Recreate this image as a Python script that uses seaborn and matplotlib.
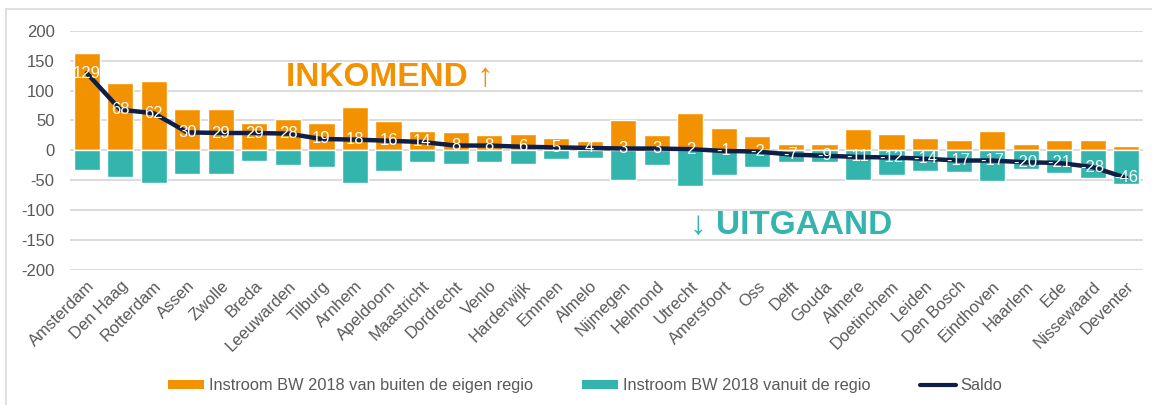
import numpy as np
import pandas as pd
import matplotlib
matplotlib.use("Agg")
import matplotlib.pyplot as plt
from matplotlib.patches import Patch, Rectangle
from matplotlib.lines import Line2D
import seaborn as sns

cities = ["Amsterdam", "Den Haag", "Rotterdam", "Assen", "Zwolle", "Breda", "Leeuwarden",
          "Tilburg", "Arnhem", "Apeldoorn", "Maastricht", "Dordrecht", "Venlo", "Harderwijk",
          "Emmen", "Almelo", "Nijmegen", "Helmond", "Utrecht", "Amersfoort", "Oss", "Delft",
          "Gouda", "Almere", "Doetinchem", "Leiden", "Den Bosch", "Eindhoven", "Haarlem",
          "Ede", "Nissewaard", "Deventer"]
inkomend = [162, 112, 116, 69, 69, 45, 52, 45, 72, 49, 32, 30, 25, 28, 20, 15, 51, 25, 62,
            38, 24, 10, 10, 36, 27, 20, 18, 33, 10, 17, 17, 8]
uitgaand = [-33, -45, -55, -40, -40, -17, -25, -27, -55, -35, -19, -23, -19, -23, -15, -12,
            -49, -24, -60, -41, -27, -19, -20, -49, -41, -35, -36, -51, -32, -38, -46, -56]
saldo = [129, 68, 62, 30, 29, 29, 28, 19, 18, 16, 14, 8, 8, 6, 5, 4, 3, 3, 2, -1, -2, -7,
         -9, -11, -12, -14, -17, -17, -20, -21, -28, -46]
yticks = [-200, -150, -100, -50, 0, 50, 100, 150, 200]
legend_labels = ["Instroom BW 2018 van buiten de eigen regio",
                 "Instroom BW 2018 vanuit de regio", "Saldo"]

ORANGE = "#F39200"
TEAL = "#33B4AD"
NAVY = "#0E1E47"
GRAY = "#595959"
GRID = "#D9D9D9"

sns.set_theme(style="white")
plt.rcParams["font.family"] = ["Liberation Sans", "DejaVu Sans"]

df = pd.DataFrame({"stad": cities, "in": inkomend, "uit": uitgaand, "saldo": saldo})
df["pos"] = np.arange(len(df))

fig = plt.figure(figsize=(11.52, 4.05), dpi=100)
ax = fig.add_axes([70 / 1152, 1 - 270 / 405, (1143 - 70) / 1152, (270 - 30.7) / 405])

for y in yticks:
    ax.axhline(y, color=GRID, lw=1.3, zorder=0)

sns.barplot(data=df, x="stad", y="in", color=ORANGE, saturation=1, width=0.78, ax=ax, zorder=2)
sns.barplot(data=df, x="stad", y="uit", color=TEAL, saturation=1, width=0.78, ax=ax, zorder=2)
sns.lineplot(data=df, x="pos", y="saldo", color=NAVY, lw=3.2, ax=ax, zorder=3)

for i, v in enumerate(saldo):
    ax.text(i, v, f"{v}", color="white", ha="center", va="center", fontsize=12, zorder=4)

ax.set_ylim(-200, 200)
ax.set_xlim(-0.5, len(cities) - 0.5)
ax.set_yticks(yticks)
ax.set_yticklabels([str(t) for t in yticks], color=GRAY, fontsize=12)
ax.set_xticks(range(len(cities)))
ax.set_xticklabels(cities, rotation=45, ha="right", rotation_mode="anchor", color=GRAY, fontsize=12)
ax.tick_params(axis="y", length=0, pad=11)
ax.tick_params(axis="x", length=0, pad=6)
ax.set_xlabel("")
ax.set_ylabel("")
for s in ax.spines.values():
    s.set_visible(False)

ax.text(5.95, 122, "INKOMEND \u2191", color=ORANGE, fontsize=24, fontweight="bold",
        va="center", ha="left")
ax.text(18.0, -126, "\u2193 UITGAAND", color=TEAL, fontsize=24, fontweight="bold",
        va="center", ha="left")

handles = [Patch(facecolor=ORANGE, edgecolor="none"), Patch(facecolor=TEAL, edgecolor="none"),
           Line2D([0], [0], color=NAVY, lw=3)]
fig.legend(handles, legend_labels, loc="center", bbox_to_anchor=(0.508, 0.047), ncol=3,
           frameon=False, fontsize=11.8, labelcolor=GRAY, handlelength=2.2, handleheight=0.45,
           columnspacing=3.0, handletextpad=0.3)

fig.patches.append(Rectangle((6 / 1152, -0.1), 2, 1 - 9 / 405 + 0.1, transform=fig.transFigure,
                             fill=False, edgecolor=GRID, lw=1.2, figure=fig))

fig.savefig("out.png", dpi=100)
